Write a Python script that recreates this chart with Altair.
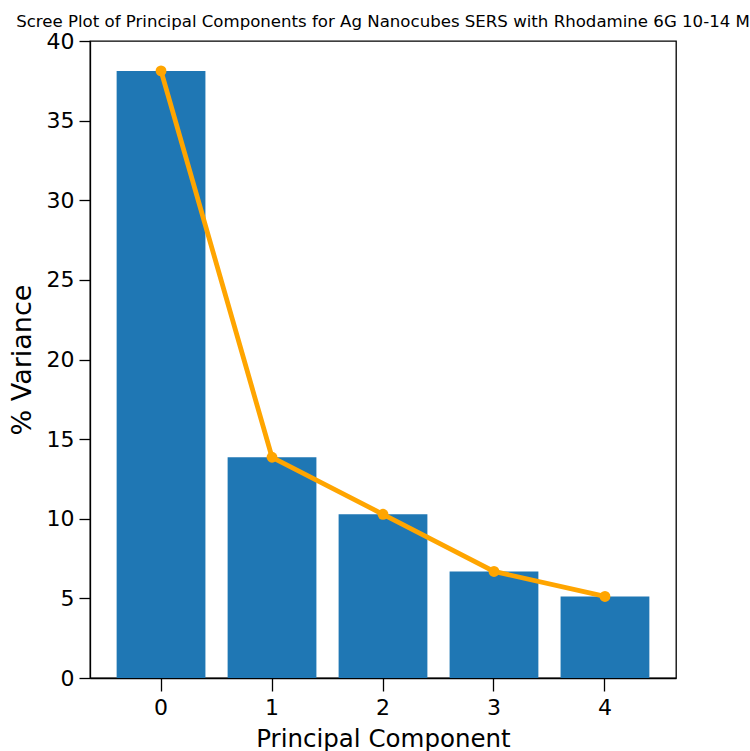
import altair as alt
import pandas as pd

# Explained variance (%) of the first five principal components
components = [0, 1, 2, 3, 4]
variance_pct = [38.12, 13.86, 10.28, 6.69, 5.12]

df = pd.DataFrame({"pc": components, "variance": variance_pct})

FONT = "DejaVu Sans"

x_enc = alt.X(
    "pc:O",
    title="Principal Component",
    scale=alt.Scale(paddingInner=0.2, paddingOuter=0.24),
    axis=alt.Axis(labelAngle=0),
)
y_enc = alt.Y(
    "variance:Q",
    title="% Variance",
    scale=alt.Scale(domain=[0, 40], nice=False),
    axis=alt.Axis(values=[0, 5, 10, 15, 20, 25, 30, 35, 40], grid=False),
)

bars = alt.Chart(df).mark_bar(color="#1f77b4").encode(x=x_enc, y=y_enc)

line = alt.Chart(df).mark_line(
    color="#FFA500",
    strokeWidth=4.8,
    point=alt.OverlayMarkDef(color="#FFA500", filled=True, size=118, opacity=1),
).encode(x=x_enc, y=y_enc)

chart = (
    alt.layer(bars, line)
    .properties(
        width=586,
        height=637,
        autosize=alt.AutoSizeParams(type="none"),
        padding={"left": 90, "top": 41, "right": 74, "bottom": 73},
        title=alt.TitleParams(
            "Scree Plot of Principal Components for Ag Nanocubes SERS with Rhodamine 6G 10-14 M",
            font=FONT,
            fontSize=16.6,
            fontWeight="normal",
            color="black",
            anchor="middle",
            offset=-1,
        ),
    )
    .configure_view(stroke="black", strokeWidth=1.3)
    .configure_axis(
        labelFont=FONT,
        labelFontSize=22,
        labelColor="black",
        titleFont=FONT,
        titleFontWeight="normal",
        titleColor="black",
        domainColor="black",
        domainWidth=1.3,
        tickColor="black",
        tickWidth=1.3,
    )
    .configure_axisX(tickSize=13, labelPadding=6, titleFontSize=24.5, titlePadding=9)
    .configure_axisY(tickSize=11, labelPadding=5, titleFontSize=27, titlePadding=10)
)

chart.save("out.html", embed_options={"renderer": "svg", "actions": False})
